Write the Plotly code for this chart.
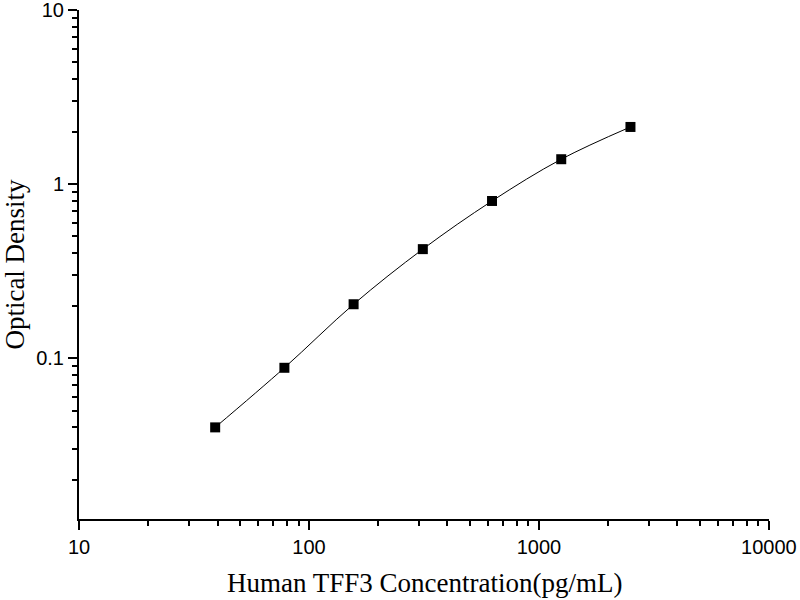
import numpy as np
import plotly.graph_objects as go

# standard curve points
concentration = [39.06, 78.13, 156.25, 312.5, 625, 1250, 2500]
optical_density = [0.040, 0.088, 0.204, 0.423, 0.80, 1.39, 2.13]

x_major = [10, 100, 1000, 10000]
y_major = [0.1, 1, 10]
x_minor = [m * d for d in [10, 100, 1000] for m in range(2, 10)]
y_minor = [m * d for d in [0.01, 0.1, 1] for m in range(2, 10)]

fig = go.Figure()
fig.add_trace(go.Scatter(
    x=concentration,
    y=optical_density,
    mode='lines+markers',
    line=dict(color='black', width=1, shape='spline'),
    marker=dict(symbol='square', size=10, color='black'),
    showlegend=False,
))

axis_common = dict(
    type='log',
    showline=True,
    linecolor='black',
    linewidth=2,
    ticks='outside',
    tickcolor='black',
    tickwidth=2,
    ticklen=9,
    showgrid=False,
    zeroline=False,
    automargin=False,
    ticklabeloverflow='allow',
    tickfont=dict(family='Liberation Sans, Arial', size=20, color='black'),
)

title_font = dict(family='Liberation Serif, Times New Roman', size=27, color='black')

fig.update_xaxes(
    **axis_common,
    range=[0.9995, 4.0005],
    tickmode='array',
    tickvals=x_major,
    ticktext=['10', '100', '1000', '10000'],
    minor=dict(tickmode='array', tickvals=x_minor, ticks='outside',
               ticklen=5, tickwidth=2, tickcolor='black', showgrid=False),
)
fig.update_yaxes(
    **axis_common,
    range=[np.log10(0.0119), 1.0005],
    tickmode='array',
    tickvals=y_major,
    ticktext=['0.1', '1', '10'],
    minor=dict(tickmode='array', tickvals=y_minor, ticks='outside',
               ticklen=5, tickwidth=2, tickcolor='black', showgrid=False),
    title=dict(text='Optical Density', font=title_font, standoff=8),
)

# x title as annotation: axis title is held inside the bottom margin
fig.add_annotation(
    text='Human TFF3 Concentration(pg/mL)',
    xref='paper', yref='paper', x=0.5, y=0,
    xanchor='center', yanchor='top', yshift=-47,
    showarrow=False, font=title_font,
)

fig.update_layout(
    width=800,
    height=600,
    margin=dict(l=79, r=31, t=10, b=81),
    plot_bgcolor='white',
    paper_bgcolor='white',
)

# drop the default page margin so the figure sits at the window corner
fig.write_html("out.html", config={'displayModeBar': False},
               post_script="document.body.style.margin='0';")
